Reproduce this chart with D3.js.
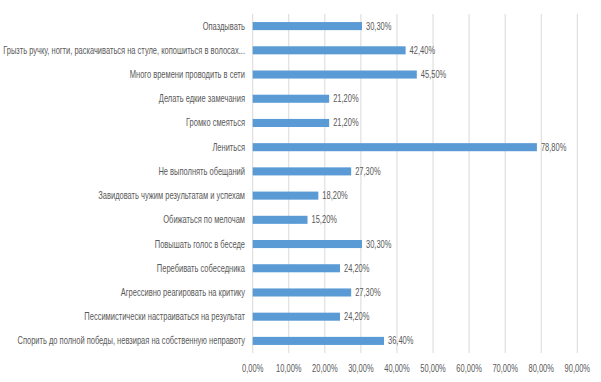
<!DOCTYPE html>
<html>
<head>
<meta charset="utf-8">
<script src="https://cdn.jsdelivr.net/npm/d3@7"></script>
<style>
  body { margin: 0; background: #fff; }
  text { font-family: "Liberation Sans", Arial, sans-serif; fill: #595959; font-size: 10px; }
</style>
</head>
<body>
<div id="chart"></div>
<script>
var categories = [
  'Опаздывать',
  'Грызть ручку, ногти, раскачиваться на стуле, копошиться в волосах...',
  'Много времени проводить в сети',
  'Делать едкие замечания',
  'Громко смеяться',
  'Лениться',
  'Не выполнять обещаний',
  'Завидовать чужим результатам и успехам',
  'Обижаться по мелочам',
  'Повышать голос в беседе',
  'Перебивать собеседника',
  'Агрессивно реагировать на критику',
  'Пессимистически настраиваться на результат',
  'Спорить до полной победы, невзирая на собственную неправоту'
];
var values = [30.3, 42.4, 45.5, 21.2, 21.2, 78.8, 27.3, 18.2, 15.2, 30.3, 24.2, 27.3, 24.2, 36.4];
var ticks = [0, 10, 20, 30, 40, 50, 60, 70, 80, 90];

(function(d3) {
  'use strict';

  var width = 601, height = 382;
  var left = 252.7, right = 577.3, top = 14, bottom = 353;

  var fmt = function(v) { return v.toFixed(2).replace('.', ',') + '%'; };

  var svg = d3.select('#chart').append('svg')
    .attr('width', width)
    .attr('height', height);

  var x = d3.scaleLinear().domain([0, 90]).range([left, right]);
  var y = d3.scaleBand().domain(categories).range([top, bottom]).paddingInner(0.667).paddingOuter(0.333);

  // the reference uses a narrow font; squeeze ours so the longest label fits
  var probe = svg.append('text').text(categories[13]);
  var sx = 228 / probe.node().getComputedTextLength();
  probe.remove();

  function place(sel, fx, fy) {
    sel.attr('transform', function(d, i) {
      return 'translate(' + fx(d, i) + ',' + fy(d, i) + ') scale(' + sx + ',1)';
    });
  }

  // gridlines
  svg.append('g').selectAll('line')
    .data(ticks)
    .enter().append('line')
    .attr('x1', function(d) { return x(d); })
    .attr('x2', function(d) { return x(d); })
    .attr('y1', top)
    .attr('y2', bottom)
    .attr('stroke', '#d9d9d9')
    .attr('stroke-width', 1);

  // tick labels
  svg.append('g').selectAll('text')
    .data(ticks)
    .enter().append('text')
    .attr('text-anchor', 'middle')
    .text(fmt)
    .call(place, function(d) { return x(d); }, function() { return 371.5; });

  // bars
  svg.append('g').selectAll('rect')
    .data(values)
    .enter().append('rect')
    .attr('x', x(0))
    .attr('y', function(d, i) { return y(categories[i]); })
    .attr('width', function(d) { return x(d) - x(0); })
    .attr('height', y.bandwidth())
    .attr('fill', '#5b9bd5');

  // value labels
  svg.append('g').selectAll('text')
    .data(values)
    .enter().append('text')
    .attr('dy', '0.35em')
    .text(fmt)
    .call(place, function(d) { return x(d) + 4; },
      function(d, i) { return y(categories[i]) + y.bandwidth() / 2; });

  // category labels
  svg.append('g').selectAll('text')
    .data(categories)
    .enter().append('text')
    .attr('dy', '0.35em')
    .attr('text-anchor', 'end')
    .text(function(d) { return d; })
    .call(place, function() { return 245; },
      function(d) { return y(d) + y.bandwidth() / 2; });

})(window.d3);
</script>
</body>
</html>
